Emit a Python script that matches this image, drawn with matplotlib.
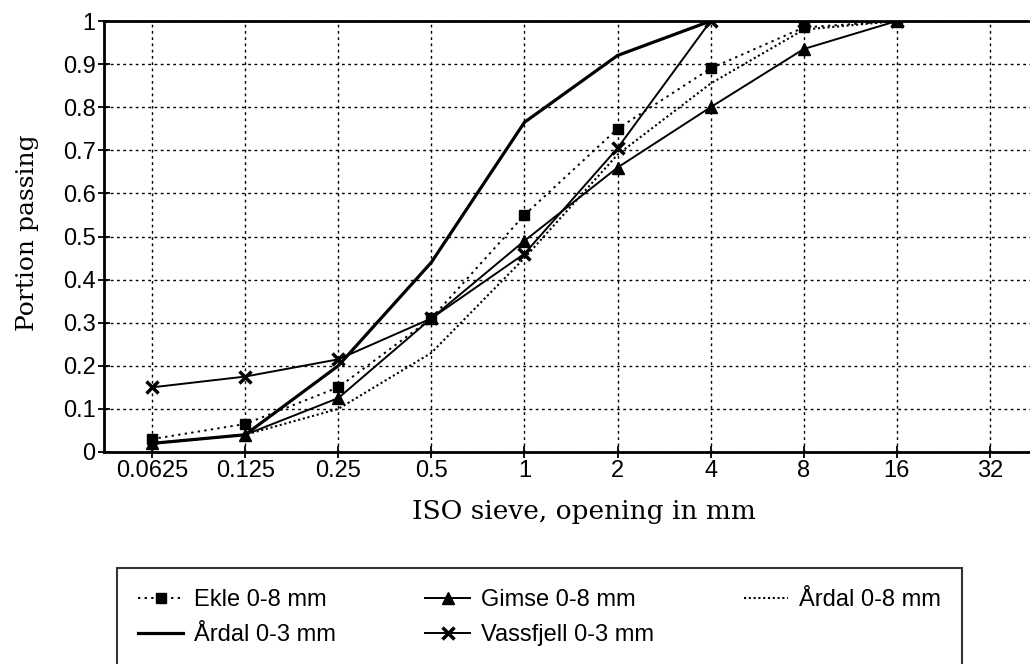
import matplotlib
matplotlib.use("Agg")
import matplotlib.pyplot as plt
import numpy as np

# sieve openings (mm)
sieves = [0.0625, 0.125, 0.25, 0.5, 1, 2, 4, 8, 16]
tick_vals = [0.0625, 0.125, 0.25, 0.5, 1, 2, 4, 8, 16, 32]
tick_labels = ["0.0625", "0.125", "0.25", "0.5", "1", "2", "4", "8", "16", "32"]

ekle_08 = [0.03, 0.065, 0.15, 0.31, 0.55, 0.75, 0.89, 0.985, 1.0]
gimse_08 = [0.02, 0.04, 0.125, 0.31, 0.49, 0.66, 0.80, 0.935, 1.0]
ardal_08 = [0.02, 0.04, 0.10, 0.23, 0.45, 0.69, 0.855, 0.98, 1.0]
ardal_03 = [0.02, 0.04, 0.20, 0.44, 0.765, 0.92, 1.0, 1.0, 1.0]
vassfjell_03 = [0.15, 0.175, 0.215, 0.31, 0.46, 0.705, 1.0, 1.0, 1.0]

yticks = np.round(np.arange(0, 1.01, 0.1), 1)
ytick_labels = ["0", "0.1", "0.2", "0.3", "0.4", "0.5", "0.6", "0.7", "0.8", "0.9", "1"]

plt.rcParams['font.family'] = ['Liberation Sans', 'DejaVu Sans']

fig = plt.figure(figsize=(10.3, 6.64), dpi=100)
ax = fig.add_axes([104/1030, 1-452/664, 1-104/1030, (452-21)/664])

l_ekle, = ax.plot(sieves, ekle_08, color='black', ls=(0, (1.2, 2.2)), lw=1.4,
                  marker='s', ms=7, label="Ekle 0-8 mm")
l_gimse, = ax.plot(sieves, gimse_08, color='black', ls='-', lw=1.4,
                   marker='^', ms=8, label="Gimse 0-8 mm")
l_a08, = ax.plot(sieves, ardal_08, color='black', ls=(0, (1, 1.3)), lw=1.5,
                 label="Årdal 0-8 mm")
l_a03, = ax.plot(sieves, ardal_03, color='black', ls='-', lw=2.3,
                 label="Årdal 0-3 mm")
l_vass, = ax.plot(sieves, vassfjell_03, color='black', ls='-', lw=1.4,
                  marker='x', ms=9, mew=2.5, label="Vassfjell 0-3 mm")

ax.set_xscale('log', base=2)
ax.set_xlim(0.0625 * 2**-0.516, 0.0625 * 2**9.43)
ax.set_ylim(0, 1)
ax.set_xticks(tick_vals)
ax.set_xticklabels(tick_labels)
ax.xaxis.set_minor_locator(matplotlib.ticker.NullLocator())
ax.set_yticks(yticks)
ax.set_yticklabels(ytick_labels)
ax.tick_params(direction='inout', length=8, width=1.3, labelsize=17, color='black', pad=2)

ax.grid(True, color='black', ls=(0, (2, 2.5)), lw=1.0)
for s in ['left', 'bottom', 'top']:
    ax.spines[s].set_linewidth(2)
ax.spines['right'].set_visible(False)

ax.set_xlabel("ISO sieve, opening in mm", family='DejaVu Serif', fontsize=19)
ax.xaxis.set_label_coords(0.518, -0.11)
ax.set_ylabel("Portion passing", family='DejaVu Serif', fontsize=18)
ax.yaxis.set_label_coords(-0.07, 0.51)

handles = [l_ekle, l_a03, l_gimse, l_vass, l_a08]
leg = fig.legend(handles=handles, labels=[h.get_label() for h in handles],
                 loc='upper left', bbox_to_anchor=(117/1030, 1-568/664), ncol=3,
                 fontsize=17, frameon=True, fancybox=False, edgecolor='black',
                 handlelength=1.9, handletextpad=0.45, columnspacing=3.8,
                 borderpad=0.9, labelspacing=0.55, borderaxespad=0)
leg.get_frame().set_linewidth(1.5)

fig.savefig("out.png", dpi=100)
